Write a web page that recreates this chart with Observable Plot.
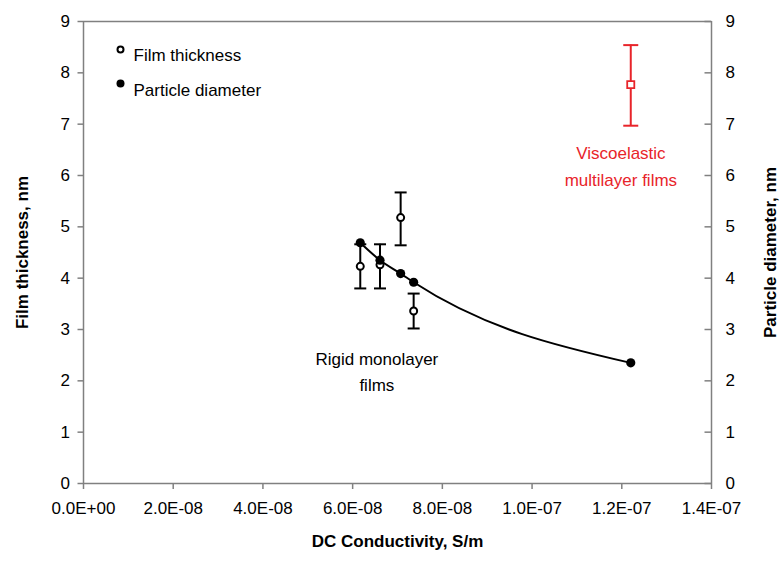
<!DOCTYPE html>
<html>
<head>
<meta charset="utf-8">
<script src="https://cdn.jsdelivr.net/npm/d3@7"></script>
<script src="https://cdn.jsdelivr.net/npm/@observablehq/plot@0.6"></script>
<style>
  html, body { margin: 0; padding: 0; background: #fff; }
  #chart { width: 782px; height: 561px; }
</style>
</head>
<body>
<div id="chart"></div>
<script>
// ---- data ----
const filmX = [6.17e-8, 6.61e-8, 7.07e-8, 7.36e-8];
const filmThickness = [4.23, 4.26, 5.18, 3.36];
const filmLow = [3.80, 3.80, 4.64, 3.02];
const filmHigh = [4.66, 4.66, 5.67, 3.70];

const particleX = [6.17e-8, 6.61e-8, 7.07e-8, 7.36e-8, 1.22e-7];
const particleDiameter = [4.69, 4.35, 4.09, 3.92, 2.35];

const viscoX = [1.22e-7];
const viscoThickness = [7.77];
const viscoLow = [6.97];
const viscoHigh = [8.54];

const xTicks = [0, 2e-8, 4e-8, 6e-8, 8e-8, 1e-7, 1.2e-7, 1.4e-7];
const xTickLabels = ["0.0E+00", "2.0E-08", "4.0E-08", "6.0E-08", "8.0E-08", "1.0E-07", "1.2E-07", "1.4E-07"];
const yTicks = [0, 1, 2, 3, 4, 5, 6, 7, 8, 9];

const annotations = [
  {x: 6.54e-8, y: 2.22, text: "Rigid monolayer\nfilms", color: "black"},
  {x: 1.198e-7, y: 6.22, text: "Viscoelastic\nmultilayer films", color: "#e8242a"}
];
const legendLabels = ["Film thickness", "Particle diameter"];

// ---- build tables ----
const film = filmX.map((x, i) => ({x, y: filmThickness[i], lo: filmLow[i], hi: filmHigh[i]}));
const particle = particleX.map((x, i) => ({x, y: particleDiameter[i]}));
const visco = viscoX.map((x, i) => ({x, y: viscoThickness[i], lo: viscoLow[i], hi: viscoHigh[i]}));

const hline = {
  draw(context, size) {
    const r = Math.sqrt(size / Math.PI);
    context.moveTo(-r, 0);
    context.lineTo(r, 0);
  }
};

const RED = "#e8242a";
const GRAY = "#808080";
const FONT = "'Liberation Sans', Arial, Helvetica, sans-serif";

const chart = Plot.plot({
  width: 782,
  height: 561,
  marginLeft: 83,
  marginRight: 71,
  marginTop: 21,
  marginBottom: 78,
  style: {fontFamily: FONT, fontSize: "17px", color: "black", background: "white"},
  x: {domain: [0, 1.4e-7], nice: false},
  y: {domain: [0, 9], nice: false},
  marks: [
    // frame lines
    Plot.ruleY([9], {stroke: GRAY, strokeWidth: 1.5}),
    Plot.ruleY([0], {stroke: GRAY, strokeWidth: 1.5}),
    Plot.ruleX([0], {stroke: GRAY, strokeWidth: 1.5}),
    Plot.ruleX([1.4e-7], {stroke: GRAY, strokeWidth: 1.5}),
    // axes
    Plot.axisX({ticks: xTicks, tickSize: 6, tickPadding: 12, stroke: GRAY, fill: "black", strokeWidth: 1.5,
      tickFormat: d => xTickLabels[xTicks.findIndex(t => Math.abs(t - d) < 1e-12)], label: null, fontSize: 17}),
    Plot.axisY({anchor: "left", ticks: yTicks, tickSize: 5.5, tickPadding: 8, stroke: GRAY, fill: "black", strokeWidth: 1.5,
      tickFormat: d => String(d), label: null, fontSize: 17}),
    Plot.axisY({anchor: "right", ticks: yTicks, tickSize: 0, tickPadding: 14, fill: "black",
      tickFormat: d => String(d), label: null, fontSize: 17}),
    // inward ticks on right axis
    Plot.dot(yTicks, {y: d => d, frameAnchor: "right", dx: -3.5, symbol: hline, r: 3.5, stroke: GRAY, strokeWidth: 1.5}),
    // axis titles
    Plot.text(["Film thickness, nm"], {frameAnchor: "left", dx: -61, rotate: -90, textAnchor: "middle", fontWeight: "bold", fontSize: 17}),
    Plot.text(["Particle diameter, nm"], {frameAnchor: "right", dx: 59, rotate: -90, textAnchor: "middle", fontWeight: "bold", fontSize: 17}),
    Plot.text(["DC Conductivity, S/m"], {frameAnchor: "bottom", dy: 63, fontWeight: "bold", fontSize: 17}),
    // error bars - film thickness
    Plot.ruleX(film, {x: "x", y1: "lo", y2: "hi", stroke: "black", strokeWidth: 2}),
    Plot.dot(film, {x: "x", y: "lo", symbol: hline, r: 6, stroke: "black", strokeWidth: 2}),
    Plot.dot(film, {x: "x", y: "hi", symbol: hline, r: 6, stroke: "black", strokeWidth: 2}),
    // error bars - viscoelastic
    Plot.ruleX(visco, {x: "x", y1: "lo", y2: "hi", stroke: RED, strokeWidth: 2}),
    Plot.dot(visco, {x: "x", y: "lo", symbol: hline, r: 7.5, stroke: RED, strokeWidth: 2}),
    Plot.dot(visco, {x: "x", y: "hi", symbol: hline, r: 7.5, stroke: RED, strokeWidth: 2}),
    // particle diameter line
    Plot.line(particle, {x: "x", y: "y", curve: "monotone-x", stroke: "black", strokeWidth: 2}),
    // open circles
    Plot.dot(film, {x: "x", y: "y", r: 3.5, stroke: "black", strokeWidth: 2, fill: "white"}),
    // filled dots
    Plot.dot(particle, {x: "x", y: "y", r: 4.6, fill: "black", stroke: "none"}),
    // red square
    Plot.dot(visco, {x: "x", y: "y", symbol: "square", r: 4, stroke: RED, strokeWidth: 1.8, fill: "white"}),
    // annotations
    Plot.text(annotations, {x: "x", y: "y", text: "text", fill: "color", fontSize: 17, lineHeight: 1.55, textAnchor: "middle", lineAnchor: "middle"}),
    // legend
    Plot.dot([legendLabels[0]], {frameAnchor: "top-left", dx: 37, dy: 28, r: 3, stroke: "black", strokeWidth: 2, fill: "white"}),
    Plot.dot([legendLabels[1]], {frameAnchor: "top-left", dx: 37, dy: 62, r: 4, fill: "black", stroke: "none"}),
    Plot.text([legendLabels[0]], {frameAnchor: "top-left", dx: 50, dy: 27, textAnchor: "start", fontSize: 17}),
    Plot.text([legendLabels[1]], {frameAnchor: "top-left", dx: 50, dy: 62, textAnchor: "start", fontSize: 17})
  ]
});

document.getElementById("chart").appendChild(chart);
</script>
</body>
</html>
